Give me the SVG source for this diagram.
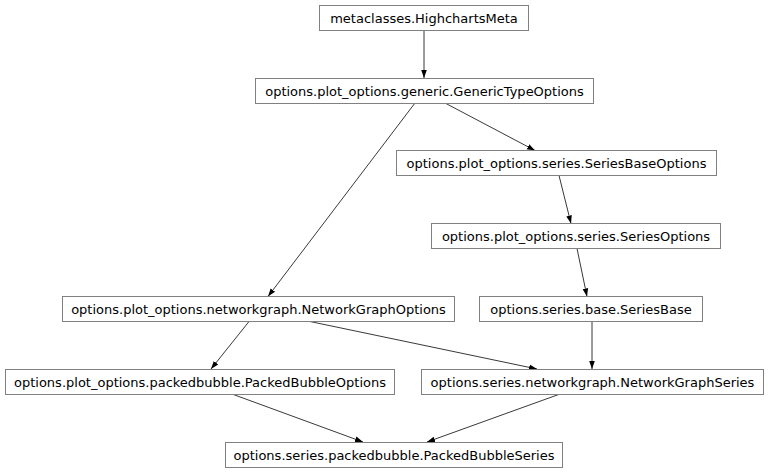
<svg xmlns="http://www.w3.org/2000/svg" width="768" height="473" viewBox="0 0 768 473">
<defs>
<style>
.n rect{fill:#fff;stroke:#808080;stroke-width:1}
.n text{font-family:"DejaVu Sans","Liberation Sans",sans-serif;font-size:13px;fill:#000;text-anchor:middle}
.e line{stroke:#222;stroke-width:0.9;marker-end:url(#ah)}
</style>
<marker id="ah" viewBox="0 0 10 10" refX="10" refY="5" markerWidth="8" markerHeight="8" markerUnits="userSpaceOnUse" orient="auto">
<path d="M0,1.5 L10,5 L0,8.5 Z" fill="#000"/>
</marker>
</defs>
<rect width="768" height="473" fill="#fff"/>
<g id="edges" class="e">
<line x1="424" y1="30.5" x2="424" y2="78"/>
<line x1="445" y1="103" x2="535" y2="150.5"/>
<line x1="415" y1="103" x2="268" y2="296.5"/>
<line x1="559" y1="175.5" x2="571" y2="223.5"/>
<line x1="577" y1="248.5" x2="587" y2="296.5"/>
<line x1="249" y1="321.5" x2="211" y2="369"/>
<line x1="310" y1="321.5" x2="537" y2="369"/>
<line x1="592" y1="321.5" x2="592" y2="369"/>
<line x1="232" y1="394" x2="363" y2="442"/>
<line x1="560" y1="394" x2="427" y2="442"/>
</g>
<g id="n1" class="n"><rect x="319.5" y="5.5" width="209" height="25"/><text x="424" y="23">metaclasses.HighchartsMeta</text></g>
<g id="n2" class="n"><rect x="255.5" y="78.5" width="338" height="25"/><text x="424.5" y="96">options.plot_options.generic.GenericTypeOptions</text></g>
<g id="n3" class="n"><rect x="396.5" y="150.5" width="320" height="25"/><text x="556.5" y="168">options.plot_options.series.SeriesBaseOptions</text></g>
<g id="n4" class="n"><rect x="431.5" y="223.5" width="289" height="25"/><text x="576" y="241">options.plot_options.series.SeriesOptions</text></g>
<g id="n5" class="n"><rect x="62.5" y="296.5" width="392" height="25"/><text x="258.5" y="314">options.plot_options.networkgraph.NetworkGraphOptions</text></g>
<g id="n6" class="n"><rect x="479.5" y="296.5" width="223" height="25"/><text x="591" y="314">options.series.base.SeriesBase</text></g>
<g id="n7" class="n"><rect x="5.5" y="369.5" width="389" height="25"/><text x="200" y="387">options.plot_options.packedbubble.PackedBubbleOptions</text></g>
<g id="n8" class="n"><rect x="421.5" y="369.5" width="342" height="25"/><text x="592.5" y="387">options.series.networkgraph.NetworkGraphSeries</text></g>
<g id="n9" class="n"><rect x="225.5" y="442.5" width="337" height="25"/><text x="394" y="460">options.series.packedbubble.PackedBubbleSeries</text></g>
</svg>
